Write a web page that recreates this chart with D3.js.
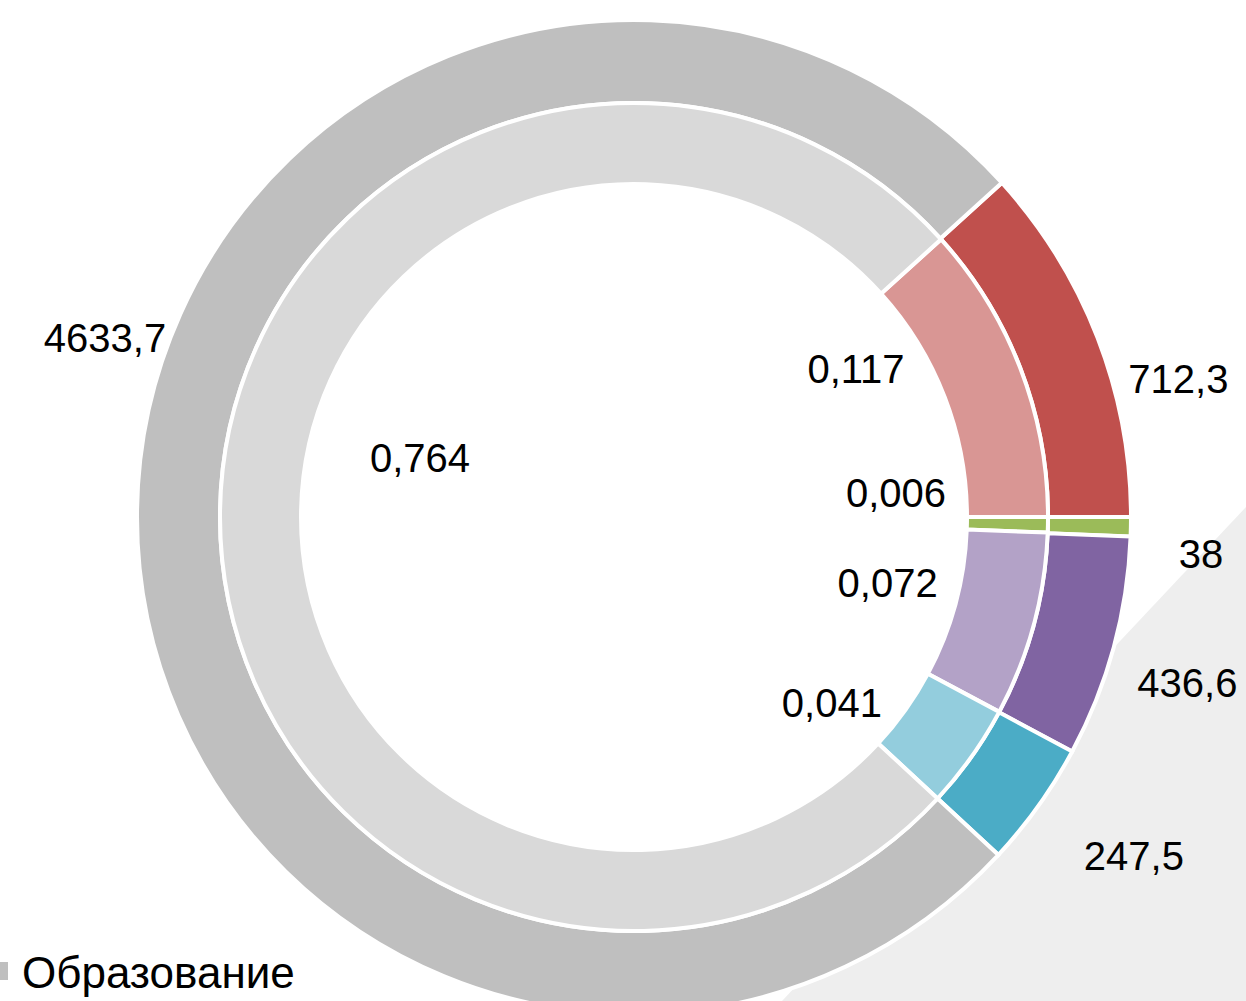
<!DOCTYPE html>
<html>
<head>
<meta charset="utf-8">
<script src="https://cdn.jsdelivr.net/npm/d3@7"></script>
<style>
  html, body { margin: 0; padding: 0; background: #ffffff; overflow: hidden; }
  svg text { font-family: "Liberation Sans", Arial, sans-serif; fill: #000; }
</style>
</head>
<body>
<svg id="chart" width="1246" height="1001"></svg>
<script>
// categories (order as drawn, clockwise from the red slice)
var categories = ["red", "green", "purple", "teal", "Образование"];
// outer ring values
var outerValues = [712.3, 38, 436.6, 247.5, 4633.7];
var outerLabels = ["712,3", "38", "436,6", "247,5", "4633,7"];
// inner ring values (shares)
var innerValues = [0.117, 0.006, 0.072, 0.041, 0.764];
var innerLabels = ["0,117", "0,006", "0,072", "0,041", "0,764"];

var outerColors = ["#c0504d", "#9bbb59", "#8064a2", "#4bacc6", "#bfbfbf"];
var innerColors = ["#d99694", "#9bbb59", "#b3a2c7", "#93cddd", "#d9d9d9"];

// label nudges from the arc label radius, px
var outerNudge = [[22, 64], [7, 26], [13, 19], [44, 14], [31, -176]];
var innerNudge = [[-30, -51], [-8, -29], [-7, -4], [-22, 29], [56, -57]];

var svg = d3.select("#chart");
var width = 1246, height = 1001;
var cx = 634, cy = 517;

// light grey background corner
svg.append("polygon")
    .attr("points", [[1246, 507], [1246, 1001], [782, 1001]].map(p => p.join(",")).join(" "))
    .attr("fill", "#eeeeee");

var g = svg.append("g")
    .attr("transform", "translate(" + cx + "," + cy + ")");

function ring(values, colors, labels, nudge, r0, r1, rLabel) {
    var total = d3.sum(values);
    // first slice ends at 3 o'clock
    var start = Math.PI / 2 - 2 * Math.PI * values[0] / total;
    var pie = d3.pie().sort(null).value(d => d)
        .startAngle(start).endAngle(start + 2 * Math.PI);
    var arcs = pie(values);
    var arc = d3.arc().innerRadius(r0).outerRadius(r1);
    var labelArc = d3.arc().innerRadius(rLabel).outerRadius(rLabel);

    g.selectAll(null)
        .data(arcs)
        .enter().append("path")
        .attr("d", arc)
        .attr("fill", (d, i) => colors[i])
        .attr("stroke", "#ffffff")
        .attr("stroke-width", 4);

    g.selectAll(null)
        .data(arcs)
        .enter().append("text")
        .attr("x", (d, i) => labelArc.centroid(d)[0] + nudge[i][0])
        .attr("y", (d, i) => labelArc.centroid(d)[1] + nudge[i][1])
        .attr("dy", "0.35em")
        .attr("text-anchor", "middle")
        .style("font-size", "40px")
        .text((d, i) => labels[i]);
}

ring(outerValues, outerColors, outerLabels, outerNudge, 414, 497, 560);
ring(innerValues, innerColors, innerLabels, innerNudge, 333, 414, 270);

// legend (partly cut off at the left edge)
svg.append("rect")
    .attr("x", -10)
    .attr("y", 962)
    .attr("width", 18)
    .attr("height", 18)
    .attr("fill", outerColors[4]);

svg.append("text")
    .attr("x", 22)
    .attr("y", 988)
    .style("font-size", "44px")
    .text(categories[4]);
</script>
</body>
</html>
